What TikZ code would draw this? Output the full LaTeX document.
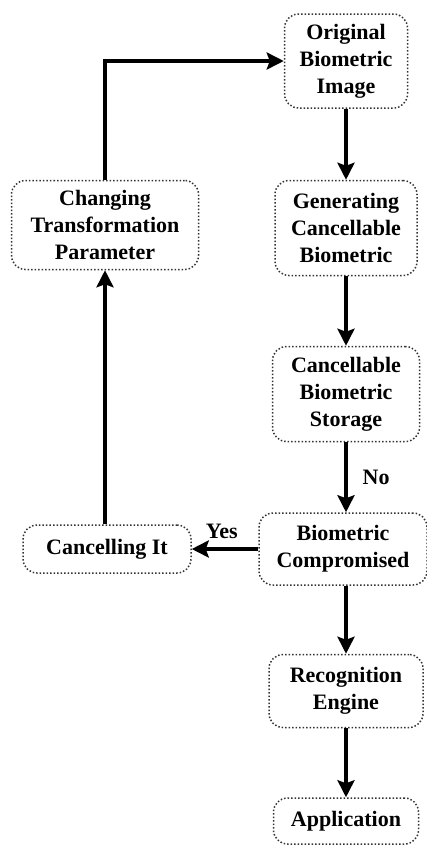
\documentclass[tikz,border=0pt]{standalone}
\usepackage{fontspec}
\setmainfont{Liberation Serif}
\usetikzlibrary{arrows.meta}

\begin{document}
\begin{tikzpicture}[x=0.5pt,y=-0.5pt,>={Stealth[length=8.5pt,width=8.5pt,inset=1.5pt]},
  box/.style={draw=black!80,densely dotted,line width=0.75pt,rounded corners=7pt,align=center,
    font=\bfseries\fontsize{11}{13.5}\selectfont,inner xsep=5pt,inner ysep=4pt},
  flow/.style={->,line width=2pt},
  lbl/.style={font=\bfseries\fontsize{11}{13.5}\selectfont}]
  \useasboundingbox (0,0) rectangle (427,847);
  % right column
  \node[box,minimum width=61.5pt,minimum height=47pt] (orig) at (346,61) {Original\\Biometric\\Image};
  \node[box,minimum width=71pt,minimum height=47.5pt] (gen) at (346,228) {Generating\\Cancellable\\Biometric};
  \node[box,minimum width=73.5pt,minimum height=47.5pt] (store) at (346,394) {Cancellable\\Biometric\\Storage};
  \node[box,minimum width=84pt,minimum height=36pt] (comp) at (343,549) {Biometric\\Compromised};
  \node[box,minimum width=77pt,minimum height=36.5pt] (recog) at (346,691) {Recognition\\Engine};
  \node[box,minimum width=72.5pt,minimum height=23pt] (app) at (346,821) {Application};
  % left column
  \node[box,minimum width=93.5pt,minimum height=44.5pt] (chg) at (105,225) {Changing\\Transformation\\Parameter};
  \node[box,minimum width=84pt,minimum height=24pt] (canc) at (107,549) {Cancelling It};
  % connectors
  \draw[flow] (orig) -- (gen);
  \draw[flow] (gen) -- (store);
  \draw[flow] (store) -- node[lbl,right=4pt] (no) {No} (store |- comp.north);
  \draw[flow] (comp) -- node[lbl,above=1pt,pos=0.55] (yes) {Yes} (canc);
  \draw[flow] (comp.south -| recog) -- (recog);
  \draw[flow] (recog) -- (app);
  \draw[flow] (canc.north -| chg) -- (chg);
  \draw[flow] (chg) |- (orig);
\end{tikzpicture}
\end{document}
